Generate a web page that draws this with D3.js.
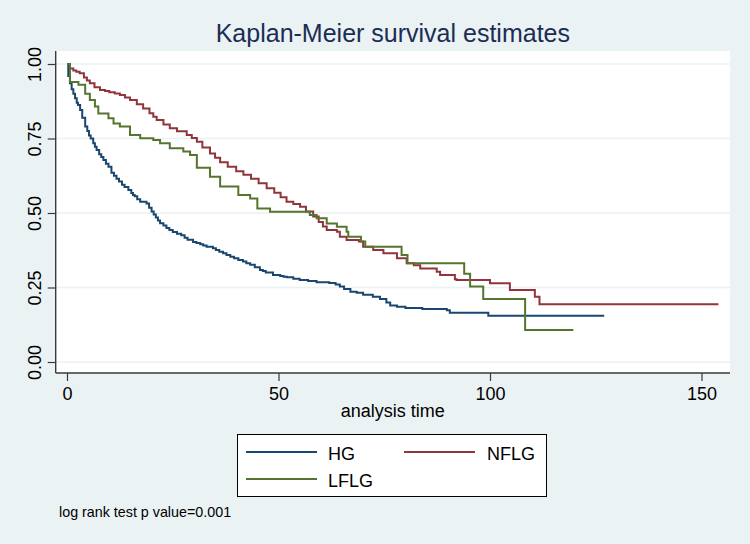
<!DOCTYPE html>
<html>
<head>
<meta charset="utf-8">
<script src="https://cdn.jsdelivr.net/npm/d3@7"></script>
<style>
  body { margin: 0; background: #eaf2f3; }
  svg { display: block; font-family: "Liberation Sans", Arial, sans-serif; }
</style>
</head>
<body>
<svg id="chart" width="750" height="544"></svg>
<script>
// survival estimates: [analysis time, S(t)]
var hgData = [
  [0, 1.00], [0.3, 0.96], [0.7, 0.935], [1.1, 0.915], [1.5, 0.90], [1.9, 0.885],
  [2.3, 0.87], [2.6, 0.862], [3.1, 0.846], [3.6, 0.82], [4.3, 0.79], [4.8, 0.775],
  [5.2, 0.76], [5.6, 0.75], [6.2, 0.734], [6.6, 0.722], [7.0, 0.711], [7.6, 0.697],
  [8.1, 0.688], [8.6, 0.678], [9.2, 0.665], [9.8, 0.655], [10.5, 0.635], [11.1, 0.625],
  [11.7, 0.615], [12.3, 0.606], [13, 0.595], [13.6, 0.587], [14.5, 0.577], [15.2, 0.567],
  [15.6, 0.56], [16, 0.556], [16.6, 0.546], [17.3, 0.538], [18.8, 0.532], [19.4, 0.518],
  [20, 0.505], [20.5, 0.495], [21, 0.485], [21.5, 0.475], [22, 0.466], [22.8, 0.458],
  [23.5, 0.45], [24.2, 0.443], [25, 0.436], [26, 0.43], [27, 0.425], [27.8, 0.417],
  [28.5, 0.41], [29.8, 0.403], [30.6, 0.399], [31.5, 0.395], [32.2, 0.391], [33, 0.387],
  [34.5, 0.382], [35.2, 0.376], [36, 0.37], [36.9, 0.365], [37.7, 0.359], [38.6, 0.353],
  [39.5, 0.348], [40.5, 0.342], [41.6, 0.337], [42.4, 0.331], [43.3, 0.326], [44.4, 0.318],
  [45.6, 0.309], [46.3, 0.305], [47, 0.300], [48.7, 0.292], [50.4, 0.289], [51.2, 0.286],
  [52, 0.284], [53.5, 0.279], [55, 0.275], [57, 0.272], [59, 0.268], [62, 0.265],
  [63.5, 0.26], [64.5, 0.253], [65.5, 0.245], [67, 0.236], [68.5, 0.232], [70, 0.226],
  [72.3, 0.219], [74, 0.211], [75.5, 0.2], [76.4, 0.19], [78, 0.185], [80, 0.181],
  [84, 0.178], [89.8, 0.174], [90.5, 0.165], [99.6, 0.155], [127, 0.155]
];
var nflgData = [
  [0, 1.00], [0.7, 0.985], [1.5, 0.978], [2.2, 0.974], [3, 0.969], [4, 0.955],
  [4.7, 0.945], [5.4, 0.935], [6.5, 0.922], [7.8, 0.913], [9, 0.909], [10, 0.905],
  [11.3, 0.901], [12.5, 0.896], [13.7, 0.888], [14.9, 0.879], [16.5, 0.865], [18, 0.851],
  [19.5, 0.835], [20.4, 0.823], [21.2, 0.812], [22.8, 0.797], [24.3, 0.784], [26, 0.774],
  [28.3, 0.762], [29.5, 0.752], [30.7, 0.739], [32, 0.72], [33.8, 0.700], [35, 0.685],
  [36.2, 0.670], [38, 0.655], [40, 0.64], [41.7, 0.628], [43.5, 0.615], [45.3, 0.60],
  [47.2, 0.583], [49, 0.568], [50.5, 0.553], [51.9, 0.538], [53.5, 0.53], [55.1, 0.521],
  [56.5, 0.505], [58.2, 0.488], [59.5, 0.47], [60.5, 0.455], [61.4, 0.443], [63.8, 0.437],
  [64.5, 0.42], [66.1, 0.409], [69, 0.404], [70, 0.387], [72.4, 0.376], [74.8, 0.365],
  [78, 0.348], [80.3, 0.331], [82, 0.325], [83.5, 0.314], [87.4, 0.303], [88.2, 0.292],
  [91.7, 0.278], [92.1, 0.275], [100, 0.264], [104.7, 0.242], [110.6, 0.219], [111.7, 0.194],
  [154, 0.194]
];
var lflgData = [
  [0, 1.00], [0.7, 0.94], [2.7, 0.93], [4.3, 0.90], [5.4, 0.879], [6.6, 0.857],
  [7.4, 0.834], [9.8, 0.818], [11, 0.80], [12.5, 0.79], [14.9, 0.762], [17.3, 0.751],
  [20.4, 0.745], [22, 0.734], [24.3, 0.717], [27.5, 0.706], [29.1, 0.695], [30.7, 0.652],
  [33.8, 0.622], [36.2, 0.589], [40.5, 0.560], [43.3, 0.549], [45, 0.515], [48, 0.504],
  [57.4, 0.493], [59, 0.482], [61.4, 0.465], [63.8, 0.454], [66.1, 0.437], [66.5, 0.42],
  [69.5, 0.404], [70.5, 0.387], [79.1, 0.359], [80.5, 0.331], [93.9, 0.296], [95.3, 0.253],
  [98.4, 0.211], [108.3, 0.107], [119.7, 0.107]
];

var groups = ['HG', 'NFLG', 'LFLG'];
var xTicks = [0, 50, 100, 150];
var yTicks = [0, 0.25, 0.5, 0.75, 1];

var series = [
  {name: 'HG', values: hgData, color: '#1a476f'},
  {name: 'NFLG', values: nflgData, color: '#90353b'},
  {name: 'LFLG', values: lflgData, color: '#55752f'}
];

var svg = d3.select('#chart');

// plot region (white) and data scales
var region = {left: 55.7, right: 730, top: 51, bottom: 373};
var x = d3.scaleLinear().domain([0, 150]).range([67, 701.5]);
var y = d3.scaleLinear().domain([0, 1]).range([362, 64]);

svg.append('rect')
  .attr('x', region.left).attr('y', region.top)
  .attr('width', region.right - region.left)
  .attr('height', region.bottom - region.top)
  .attr('fill', '#ffffff');

// horizontal gridlines
svg.append('g').selectAll('line')
  .data(yTicks)
  .enter().append('line')
  .attr('x1', region.left).attr('x2', region.right)
  .attr('y1', function(d) { return y(d); })
  .attr('y2', function(d) { return y(d); })
  .attr('stroke', '#eaf2f3')
  .attr('stroke-width', 1.5);

// axes
var xAxis = svg.append('g')
  .attr('transform', 'translate(0,' + region.bottom + ')')
  .call(d3.axisBottom(x).tickValues(xTicks).tickSize(8).tickPadding(6));
var yAxis = svg.append('g')
  .attr('transform', 'translate(' + region.left + ',0)')
  .call(d3.axisLeft(y).tickValues(yTicks).tickSize(8).tickFormat(d3.format('.2f')));

[xAxis, yAxis].forEach(function(a) {
  a.select('.domain').remove();
  a.selectAll('.tick line').attr('stroke', '#3a3a3a').attr('stroke-width', 1.2);
  a.selectAll('.tick text').attr('fill', '#000').style('font-size', '18px');
});

yAxis.selectAll('.tick text')
  .attr('x', 0).attr('dy', 0)
  .attr('transform', 'translate(-15,0) rotate(-90)')
  .attr('text-anchor', 'middle');

// axis lines on the edge of the plot region
svg.append('line')
  .attr('x1', region.left).attr('x2', region.left)
  .attr('y1', region.top).attr('y2', region.bottom)
  .attr('stroke', '#3a3a3a').attr('stroke-width', 1.4);
svg.append('line')
  .attr('x1', region.left).attr('x2', region.right)
  .attr('y1', region.bottom).attr('y2', region.bottom)
  .attr('stroke', '#3a3a3a').attr('stroke-width', 1.4);

// survival curves
var line = d3.line()
  .x(function(d) { return x(d[0]); })
  .y(function(d) { return y(d[1]); })
  .curve(d3.curveStepAfter);

svg.append('g').selectAll('path')
  .data(series)
  .enter().append('path')
  .attr('d', function(d) { return line(d.values); })
  .attr('fill', 'none')
  .attr('stroke', function(d) { return d.color; })
  .attr('stroke-width', 2);

// titles
svg.append('text')
  .attr('x', (region.left + region.right) / 2).attr('y', 42)
  .attr('text-anchor', 'middle')
  .attr('fill', '#1c2d55')
  .style('font-size', '25px')
  .text('Kaplan-Meier survival estimates');

svg.append('text')
  .attr('x', (region.left + region.right) / 2).attr('y', 417)
  .attr('text-anchor', 'middle')
  .style('font-size', '18px')
  .text('analysis time');

// legend
var legend = svg.append('g');
legend.append('rect')
  .attr('x', 237.5).attr('y', 434.5)
  .attr('width', 309).attr('height', 62)
  .attr('fill', '#ffffff')
  .attr('stroke', '#000').attr('stroke-width', 1);

var legendPos = [
  {lx: 246, tx: 328, y: 452},
  {lx: 404, tx: 487, y: 452},
  {lx: 246, tx: 328, y: 479}
];

series.forEach(function(s, i) {
  var p = legendPos[i];
  legend.append('line')
    .attr('x1', p.lx).attr('x2', p.lx + 71)
    .attr('y1', p.y).attr('y2', p.y)
    .attr('stroke', s.color).attr('stroke-width', 2);
  legend.append('text')
    .attr('x', p.tx).attr('y', p.y + 7.5)
    .style('font-size', '18px')
    .text(groups[i]);
});

// note
svg.append('text')
  .attr('x', 59).attr('y', 517)
  .style('font-size', '14.3px')
  .text('log rank test p value=0.001');
</script>
</body>
</html>
